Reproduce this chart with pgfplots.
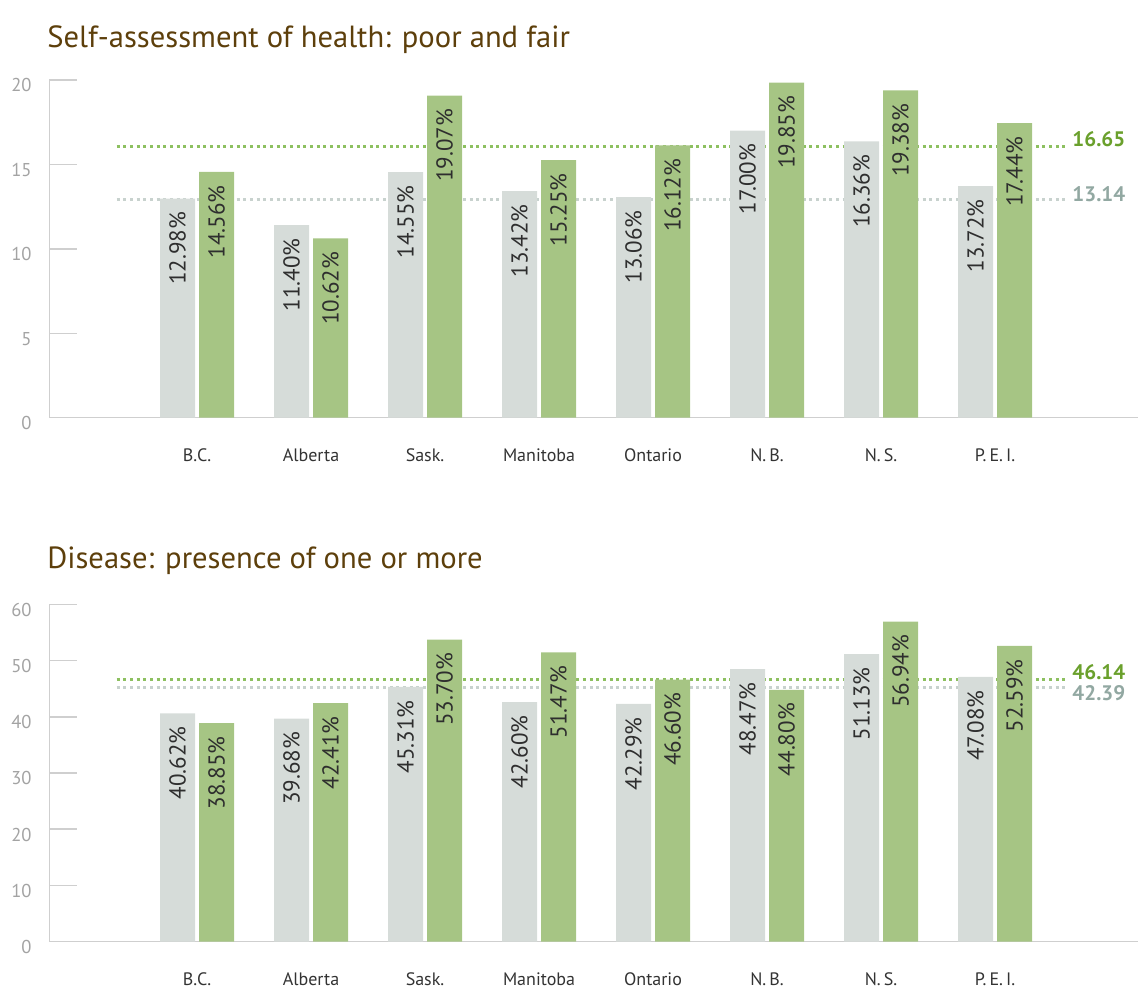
\documentclass[border=0pt]{standalone}
\usepackage{pgfplots}
\pgfplotsset{compat=1.18}
\usepackage{pgfplotstable}
\usepackage{fontspec}
\setmainfont{PT Sans}
\definecolor{barGrey}{HTML}{D6DCD9}
\definecolor{barGreen}{HTML}{A6C584}
\definecolor{dotGreen}{HTML}{8DC060}
\definecolor{dotGrey}{HTML}{C8D2CE}
\definecolor{labGreen}{HTML}{6AA02C}
\definecolor{labGrey}{HTML}{92A8A2}
\definecolor{titleBrown}{HTML}{5D3F0B}
\definecolor{axisGrey}{HTML}{CFCFCF}
\definecolor{tickText}{HTML}{A3A3A3}
\definecolor{catText}{HTML}{333333}
\definecolor{valText}{HTML}{2E2E2E}

\pgfplotstableread{
x grey green
0 12.98 14.56
1 11.40 10.62
2 14.55 19.07
3 13.42 15.25
4 13.06 16.12
5 17.00 19.85
6 16.36 19.38
7 13.72 17.44
}\healthdata

\pgfplotstableread{
x grey green
0 40.62 38.85
1 39.68 42.41
2 45.31 53.70
3 42.60 51.47
4 42.29 46.60
5 48.47 44.80
6 51.13 56.94
7 47.08 52.59
}\diseasedata

\pgfplotsset{
  chartstyle/.style={
    scale only axis, width=544.35pt,
    axis x line=bottom, axis y line=left,
    axis line style={draw=axisGrey, line width=0.75pt, -},
    xmin=-1.2956, xmax=8.254,
    xtick={0,...,7},
    xticklabels={B.C., Alberta, Sask., Manitoba, Ontario, N.\,B., N.\,S., P.\,E.\,I.},
    xtick style={draw=none},
    ytick style={draw=axisGrey, line width=0.75pt},
    tick align=inside, major tick length=13.7pt,
    xticklabel style={font=\fontsize{9}{10}\selectfont, text=catText, anchor=base, inner sep=0pt, yshift=-8.45pt},
    yticklabel style={font=\fontsize{9.3}{10}\selectfont, text=tickText, anchor=base east, inner sep=0pt, xshift=-8.65pt, yshift=-6pt},
    clip=false,
    ybar=2pt, bar width=17.5pt,
    /pgf/number format/assume math mode=true,
  },
  valbar/.style={draw=none, point meta=y,
    nodes near coords={\rotatebox{90}{\pgfmathprintnumber[fixed, fixed zerofill, precision=2, assume math mode=true]{\pgfplotspointmeta}\%}},
    every node near coord/.append style={anchor=north, inner xsep=0pt, inner ysep=6.5pt, font=\fontsize{11.5}{12}\selectfont, text=valText}},
  dotline/.style={sharp plot, line width=1.5pt, line cap=butt, dash pattern=on 1.5pt off 1.83pt, mark=none, forget plot},
}
\tikzset{reflabel/.style={anchor=west, inner sep=0pt, xshift=3.5pt, font=\bfseries\fontsize{10.5}{12}\selectfont}}

\begin{document}
\begin{tikzpicture}[x=1pt,y=1pt]
\useasboundingbox (0,0) rectangle (570,499.5);

\node[anchor=base west, inner sep=0pt, font=\fontsize{15.3}{18}\selectfont, text=titleBrown] at (23.5,475.5) {Self-assessment of health: poor and fair};
\node[anchor=base west, inner sep=0pt, font=\fontsize{15.3}{18}\selectfont, text=titleBrown] at (23.5,215) {Disease: presence of one or more};

\begin{axis}[chartstyle, at={(24.65pt,290.65pt)}, anchor=south west, height=168.85pt,
  ymin=0, ymax=20, ytick={0,5,10,15,20}]
  \addplot[dotline, draw=dotGreen] coordinates {(-0.704,16.09) (7.614,16.09)};
  \addplot[dotline, draw=dotGrey] coordinates {(-0.704,12.93) (7.614,12.93)};
  \addplot[valbar, fill=barGrey] table[x=x, y=grey] {\healthdata};
  \addplot[valbar, fill=barGreen] table[x=x, y=green] {\healthdata};
  \node[reflabel, yshift=3.2pt, text=labGreen] at (axis cs:7.614,16.09) {16.65};
  \node[reflabel, yshift=2.65pt, text=labGrey] at (axis cs:7.614,12.93) {13.14};
\end{axis}

\begin{axis}[chartstyle, at={(24.65pt,28.65pt)}, anchor=south west, height=168.7pt,
  ymin=0, ymax=60, ytick={0,10,...,60}]
  \addplot[dotline, draw=dotGreen] coordinates {(-0.704,46.6) (7.614,46.6)};
  \addplot[dotline, draw=dotGrey] coordinates {(-0.704,45.13) (7.614,45.13)};
  \addplot[valbar, fill=barGrey] table[x=x, y=grey] {\diseasedata};
  \addplot[valbar, fill=barGreen] table[x=x, y=green] {\diseasedata};
  \node[reflabel, yshift=3.6pt, text=labGreen] at (axis cs:7.614,46.6) {46.14};
  \node[reflabel, yshift=-2.6pt, text=labGrey] at (axis cs:7.614,45.13) {42.39};
\end{axis}
\end{tikzpicture}
\end{document}
